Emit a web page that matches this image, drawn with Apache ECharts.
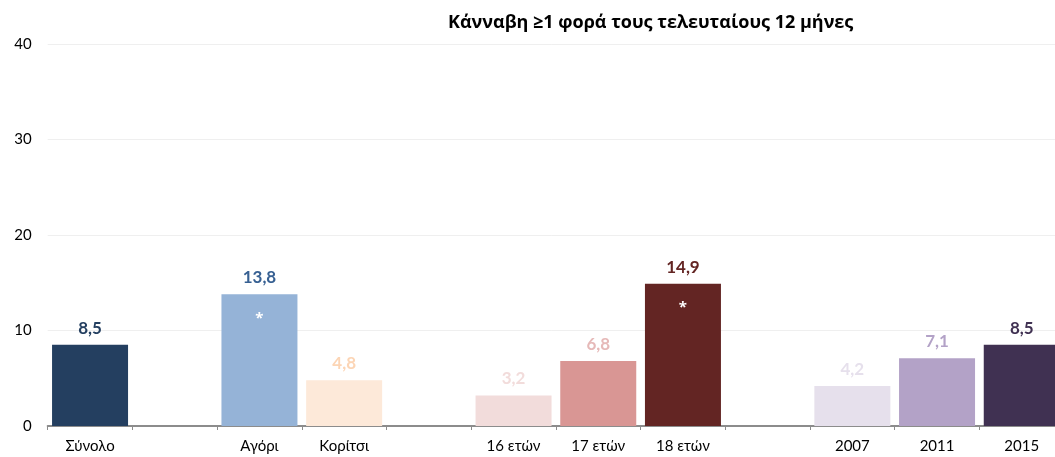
<!DOCTYPE html>
<html><head><meta charset="utf-8">
<script src="https://cdn.jsdelivr.net/npm/echarts@6/dist/echarts.min.js"></script>
<style>html,body{margin:0;padding:0;background:#fff}#c{width:1055px;height:457px}</style>
</head><body><div id="c"></div>
<script>
const categories = ['Σύνολο', '', 'Αγόρι', 'Κορίτσι', '', '16 ετών', '17 ετών', '18 ετών', '', '2007', '2011', '2015'];
const values = [8.5, null, 13.8, 4.8, null, 3.2, 6.8, 14.9, null, 4.2, 7.1, 8.5];
const barColors = ['#243F60', null, '#95B3D7', '#FDE9D9', null, '#F2DCDB', '#D99694', '#632523', null, '#E6E0EC', '#B3A2C7', '#403152'];
const labelColors = ['#243F60', null, '#376092', '#FCD5B5', null, '#F2DCDB', '#E6B9B8', '#632523', null, '#E6E0EC', '#B3A2C7', '#403152'];
const significant = [false, false, true, false, false, false, false, true, false, false, false, false];
const yTicks = { min: 0, max: 40, interval: 10 };
const titleText = 'Κάνναβη ≥1 φορά τους τελευταίους 12 μήνες';

const font = 'Lato, "Noto Sans", sans-serif';
const chart = echarts.init(document.getElementById('c'), null, { renderer: 'canvas' });
chart.setOption({
  animation: false,
  textStyle: { fontFamily: font },
  title: {
    text: titleText, left: 443, top: 9,
    textStyle: { fontFamily: '"Open Sans", sans-serif', fontSize: 18, fontWeight: 'bold', color: '#000' }
  },
  grid: { left: 47.7, width: 1016.4, top: 44, bottom: 31, containLabel: false, outerBoundsMode: 'none' },
  xAxis: {
    type: 'category', data: categories,
    axisLine: { lineStyle: { color: '#8c8c8c', width: 2 } },
    axisTick: { show: true, length: 4, lineStyle: { color: '#8c8c8c', width: 1 } },
    axisLabel: { color: '#000', fontSize: 15, margin: 13, fontFamily: font, interval: 0 }
  },
  yAxis: {
    type: 'value', min: yTicks.min, max: yTicks.max, interval: yTicks.interval,
    axisLine: { show: false }, axisTick: { show: false },
    axisLabel: { color: '#000', fontSize: 15, margin: 16, fontFamily: font },
    splitLine: { lineStyle: { color: '#efefef', width: 1 } }
  },
  series: [
    {
      type: 'bar', barWidth: 76,
      data: values.map((v, i) => v == null ? null : {
        value: v,
        itemStyle: { color: barColors[i] },
        label: { color: labelColors[i] }
      }),
      label: {
        show: true, position: 'top', distance: 8,
        fontSize: 17, fontWeight: 'bold', fontFamily: font,
        formatter: p => String(p.value).replace('.', ',')
      }
    },
    {
      type: 'bar', barWidth: 76, barGap: '-100%', silent: true,
      data: values.map((v, i) => v == null ? null : {
        value: v,
        itemStyle: { color: 'rgba(0,0,0,0)' },
        label: { show: significant[i] }
      }),
      label: {
        show: false, position: 'insideTop', distance: 17,
        color: '#fff', fontSize: 15, fontWeight: 'bold', fontFamily: '"Open Sans", sans-serif',
        formatter: '*'
      }
    }
  ]
});
</script></body></html>
